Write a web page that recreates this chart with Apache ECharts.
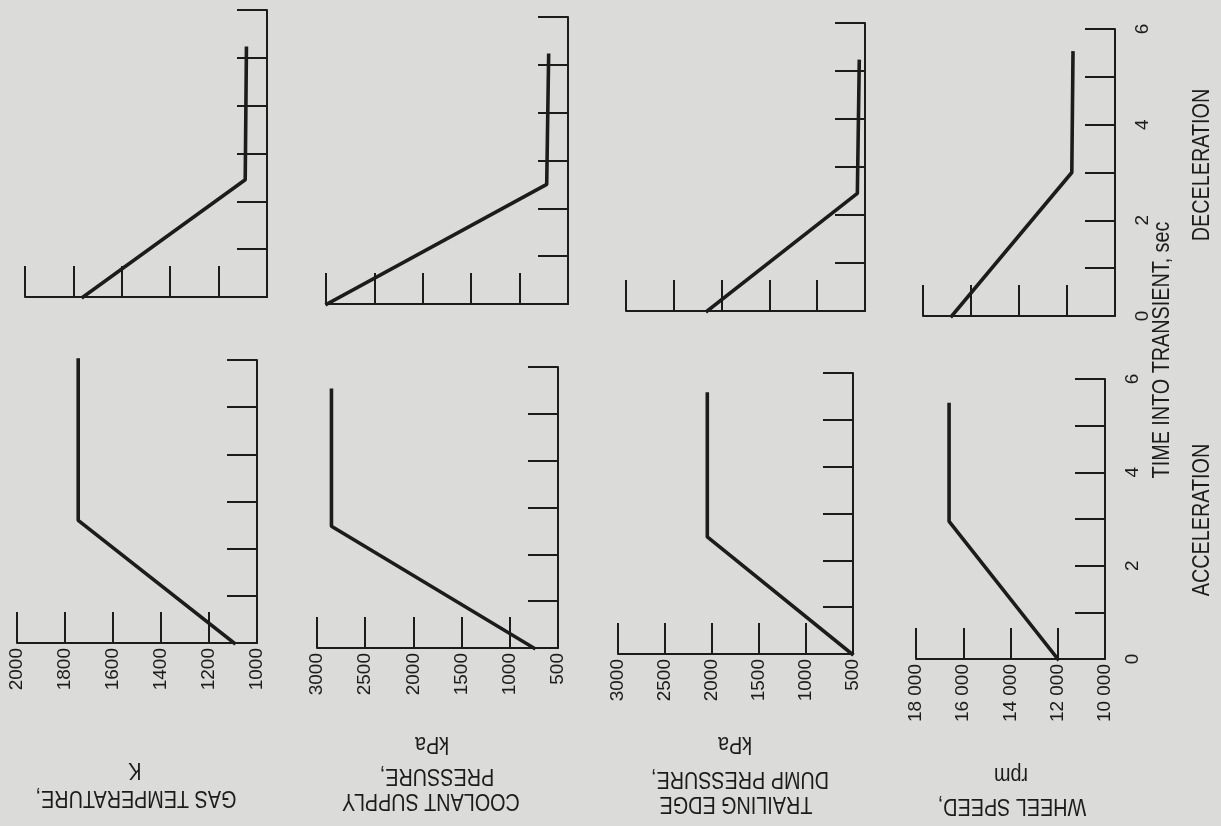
<!DOCTYPE html>
<html>
<head>
<meta charset="utf-8">
<title>Transient response</title>
<script src="https://cdn.jsdelivr.net/npm/echarts@6/dist/echarts.min.js"></script>
<style>
  html, body { margin: 0; padding: 0; background: #dbdbd9; }
  #chart { width: 1221px; height: 826px; }
</style>
</head>
<body>
<div id="chart"></div>
<script>
(function () {
  'use strict';

  // time into transient, sec (shared by every panel)
  const timeTicks = [0, 1, 2, 3, 4, 5, 6];

  // value axes
  const gasTicks = [1000, 1200, 1400, 1600, 1800, 2000];
  const pressureTicks = [500, 1000, 1500, 2000, 2500, 3000];
  const speedTicks = [10000, 12000, 14000, 16000, 18000];
  const speedTickLabels = ['10 000', '12 000', '14 000', '16 000', '18 000'];

  // gas temperature, K
  const gasAccelTime = [0, 2.6, 6.0];
  const gasAccelK = [1095, 1745, 1745];
  const gasDecelTime = [0, 2.45, 5.2];
  const gasDecelK = [1760, 1090, 1085];

  // coolant supply pressure, kPa
  const coolantAccelTime = [0, 2.6, 5.5];
  const coolantAccelKPa = [750, 2850, 2850];
  const coolantDecelTime = [0, 2.5, 5.2];
  const coolantDecelKPa = [2990, 720, 700];

  // trailing edge dump pressure, kPa
  const dumpAccelTime = [0, 2.5, 5.55];
  const dumpAccelKPa = [510, 2050, 2050];
  const dumpDecelTime = [0, 2.45, 5.2];
  const dumpDecelKPa = [2150, 580, 560];

  // wheel speed, rpm
  const wheelAccelTime = [0, 2.95, 5.45];
  const wheelAccelRpm = [12000, 16600, 16600];
  const wheelDecelTime = [0, 3.0, 5.5];
  const wheelDecelRpm = [16800, 11800, 11750];

  const ink = '#1c1c1c';
  const fontFamily = "'Liberation Sans', Arial, sans-serif";

  const chartEl = document.getElementById('chart');
  const chart = echarts.init(chartEl, null, { renderer: 'canvas' });

  function plainLabel(v) {
    return String(v);
  }

  function speedLabel(v) {
    const idx = speedTicks.indexOf(v);
    return idx >= 0 ? speedTickLabels[idx] : '';
  }

  // page is turned a quarter: time runs upward, values grow leftward
  const panels = [
    { time: gasAccelTime, value: gasAccelK, ticks: gasTicks, fmt: plainLabel, rect: [17, 360, 240, 283], valueLabels: true },
    { time: gasDecelTime, value: gasDecelK, ticks: gasTicks, fmt: plainLabel, rect: [25, 10, 242, 287] },
    { time: coolantAccelTime, value: coolantAccelKPa, ticks: pressureTicks, fmt: plainLabel, rect: [317, 367, 241, 281], valueLabels: true },
    { time: coolantDecelTime, value: coolantDecelKPa, ticks: pressureTicks, fmt: plainLabel, rect: [326, 17, 242, 287] },
    { time: dumpAccelTime, value: dumpAccelKPa, ticks: pressureTicks, fmt: plainLabel, rect: [618, 373, 235, 281], valueLabels: true },
    { time: dumpDecelTime, value: dumpDecelKPa, ticks: pressureTicks, fmt: plainLabel, rect: [626, 23, 239, 288] },
    { time: wheelAccelTime, value: wheelAccelRpm, ticks: speedTicks, fmt: speedLabel, rect: [916, 379, 189, 280], valueLabels: true, timeLabels: true },
    { time: wheelDecelTime, value: wheelDecelRpm, ticks: speedTicks, fmt: speedLabel, rect: [923, 29, 192, 287], timeLabels: true },
  ];

  const grid = [];
  const xAxis = [];
  const yAxis = [];
  const series = [];

  panels.forEach((p, i) => {
    grid.push({
      left: p.rect[0],
      top: p.rect[1],
      width: p.rect[2],
      height: p.rect[3],
      outerBoundsMode: 'none',
    });
    xAxis.push({
      gridIndex: i,
      type: 'value',
      inverse: true,
      position: 'bottom',
      min: p.ticks[0],
      max: p.ticks[p.ticks.length - 1],
      interval: p.ticks[1] - p.ticks[0],
      axisLine: { show: true, onZero: false, lineStyle: { color: ink, width: 2 } },
      axisTick: { show: true, inside: true, length: 31, lineStyle: { color: ink, width: 2 } },
      axisLabel: {
        show: !!p.valueLabels,
        rotate: 90,
        margin: 5,
        color: ink,
        fontSize: 19,
        fontFamily,
        showMinLabel: true,
        showMaxLabel: true,
        formatter: p.fmt,
      },
      splitLine: { show: false },
    });
    yAxis.push({
      gridIndex: i,
      type: 'value',
      position: 'right',
      min: timeTicks[0],
      max: timeTicks[timeTicks.length - 1],
      interval: timeTicks[1] - timeTicks[0],
      axisLine: { show: true, onZero: false, lineStyle: { color: ink, width: 2 } },
      axisTick: { show: true, inside: true, length: 30, lineStyle: { color: ink, width: 2 } },
      axisLabel: {
        show: !!p.timeLabels,
        rotate: 90,
        margin: 18,
        color: ink,
        fontSize: 19,
        fontFamily,
        showMinLabel: true,
        showMaxLabel: true,
        formatter: (v) => (v % 2 === 0 ? String(v) : ''),
      },
      splitLine: { show: false },
    });
    series.push({
      type: 'line',
      xAxisIndex: i,
      yAxisIndex: i,
      data: p.time.map((t, k) => [p.value[k], t]),
      showSymbol: false,
      symbol: 'none',
      clip: false,
      silent: true,
      lineStyle: { color: ink, width: 3.6, cap: 'square' },
    });
  });

  // axis titles, upside down as on the turned page
  const titles = [
    { text: 'GAS TEMPERATURE,', x: 136, y: 797 },
    { text: 'K', x: 135, y: 769 },
    { text: 'COOLANT SUPPLY', x: 431, y: 800 },
    { text: 'PRESSURE,', x: 437, y: 775 },
    { text: 'kPa', x: 432, y: 743 },
    { text: 'TRAILING EDGE', x: 736, y: 803 },
    { text: 'DUMP PRESSURE,', x: 740, y: 778 },
    { text: 'kPa', x: 735, y: 743 },
    { text: 'WHEEL SPEED,', x: 1012, y: 805 },
    { text: 'rpm', x: 1011, y: 774 },
  ];

  const sideTexts = [
    { text: 'TIME INTO TRANSIENT, sec', x: 1163, y: 350 },
    { text: 'ACCELERATION', x: 1203, y: 520 },
    { text: 'DECELERATION', x: 1203, y: 165 },
  ];

  function textEl(t, rotation) {
    return {
      type: 'text',
      x: t.x,
      y: t.y,
      rotation,
      scaleX: 0.86,
      silent: true,
      style: {
        text: t.text,
        fill: ink,
        font: '23px ' + fontFamily,
        align: 'center',
        verticalAlign: 'middle',
        textAlign: 'center',
        textVerticalAlign: 'middle',
      },
    };
  }

  const graphic = titles
    .map((t) => textEl(t, Math.PI))
    .concat(sideTexts.map((t) => textEl(t, Math.PI / 2)));

  chart.setOption({
    backgroundColor: '#dbdbd9',
    animation: false,
    grid,
    xAxis,
    yAxis,
    series,
    graphic,
  });

  window.addEventListener('resize', () => chart.resize());
})();
</script>
</body>
</html>
